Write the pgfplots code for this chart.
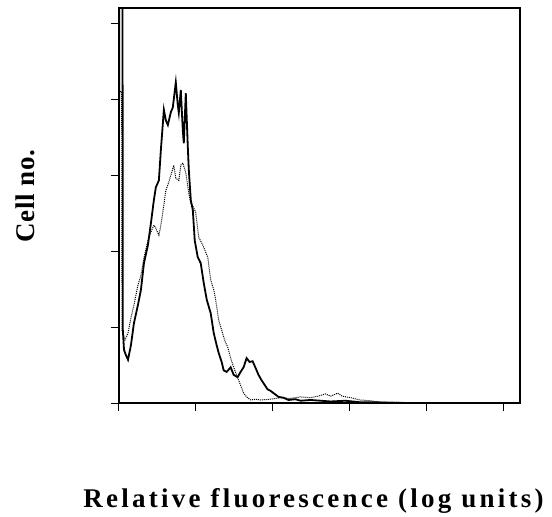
\documentclass[border=0pt]{standalone}
\usepackage{fontspec}
\setmainfont{Liberation Serif}
\newfontfamily\xlabfont[LetterSpace=12]{Liberation Serif}
\newfontfamily\ylabfont[LetterSpace=3]{Liberation Serif}
\usepackage{pgfplots}
\pgfplotsset{compat=1.18}

% flow cytometry histograms (log fluorescence, x in decades)
\pgfplotstableread{
x y
0.000 0.00
0.002 6.00
0.045 6.00
0.050 0.96
0.065 0.70
0.090 0.63
0.117 0.57
0.155 0.76
0.194 1.05
0.246 1.29
0.285 1.49
0.324 1.84
0.376 2.08
0.415 2.37
0.453 2.67
0.479 2.84
0.518 2.93
0.544 3.33
0.583 3.86
0.609 3.72
0.635 3.66
0.674 3.83
0.699 3.89
0.738 4.22
0.764 3.92
0.777 3.82
0.803 4.12
0.829 3.59
0.842 3.42
0.868 4.08
0.881 3.72
0.894 3.37
0.907 3.07
0.933 2.67
0.959 2.54
0.984 2.14
1.023 1.92
1.062 1.84
1.101 1.58
1.140 1.36
1.192 1.18
1.231 0.92
1.269 0.76
1.295 0.66
1.334 0.54
1.360 0.43
1.399 0.41
1.451 0.47
1.490 0.37
1.541 0.34
1.580 0.41
1.619 0.47
1.658 0.59
1.697 0.54
1.736 0.55
1.775 0.46
1.813 0.37
1.852 0.30
1.891 0.24
1.930 0.18
1.969 0.16
2.021 0.12
2.073 0.08
2.137 0.07
2.202 0.04
2.290 0.05
2.360 0.03
2.490 0.04
2.620 0.03
2.750 0.02
2.940 0.03
3.130 0.01
3.330 0.01
3.600 0.00
5.200 0.00
}\solid

\pgfplotstableread{
x y
0.000 0.00
0.006 4.10
0.035 4.10
0.040 0.96
0.078 0.83
0.117 0.92
0.155 1.12
0.194 1.29
0.246 1.55
0.285 1.68
0.324 1.91
0.376 2.14
0.415 2.25
0.453 2.34
0.479 2.30
0.518 2.21
0.544 2.34
0.583 2.61
0.609 2.80
0.635 2.87
0.674 3.00
0.712 3.13
0.738 2.96
0.777 2.93
0.803 3.13
0.829 3.16
0.868 3.03
0.907 2.76
0.933 2.63
0.971 2.57
0.997 2.51
1.036 2.18
1.088 2.08
1.153 1.92
1.192 1.62
1.231 1.49
1.256 1.36
1.295 1.09
1.334 0.96
1.360 0.87
1.386 0.79
1.412 0.74
1.451 0.59
1.490 0.47
1.528 0.37
1.554 0.30
1.593 0.20
1.619 0.13
1.658 0.08
1.710 0.04
1.775 0.05
1.839 0.04
1.969 0.05
2.098 0.07
2.228 0.06
2.357 0.08
2.487 0.07
2.590 0.09
2.680 0.12
2.750 0.09
2.840 0.13
2.900 0.09
3.010 0.07
3.130 0.04
3.260 0.03
3.390 0.01
3.650 0.01
3.800 0.00
5.200 0.00
}\dotted

\begin{document}
\begin{tikzpicture}
\begin{axis}[
  scale only axis,
  width=401pt, height=395pt,
  xmin=0, xmax=5.21, ymin=0, ymax=5.2,
  xtick={0,1,2,3,4,5}, ytick={0,1,2,3,4,5},
  xticklabels={}, yticklabels={},
  xtick pos=bottom, ytick pos=left,
  tick align=outside, major tick length=8pt,
  tick style={black, line width=1pt},
  axis line style={black, line width=1.1pt},
  xlabel={\xlabfont\bfseries\fontsize{27}{32}\selectfont Relative fluorescence (log units)},
  xlabel style={at={(axis description cs:0.485,-0.2633)}, anchor=base},
  ylabel={\ylabfont\bfseries\fontsize{27}{32}\selectfont Cell no.},
  ylabel style={at={(axis description cs:-0.2344,0.524)}, anchor=center, rotate=0},
]
\addplot[black, line width=1.8pt, sharp plot] table {\solid};
\addplot[black, line width=1pt, densely dotted, sharp plot] table {\dotted};
\end{axis}
\path (-119pt,-112pt) rectangle (433pt,403pt);
\end{tikzpicture}
\end{document}
